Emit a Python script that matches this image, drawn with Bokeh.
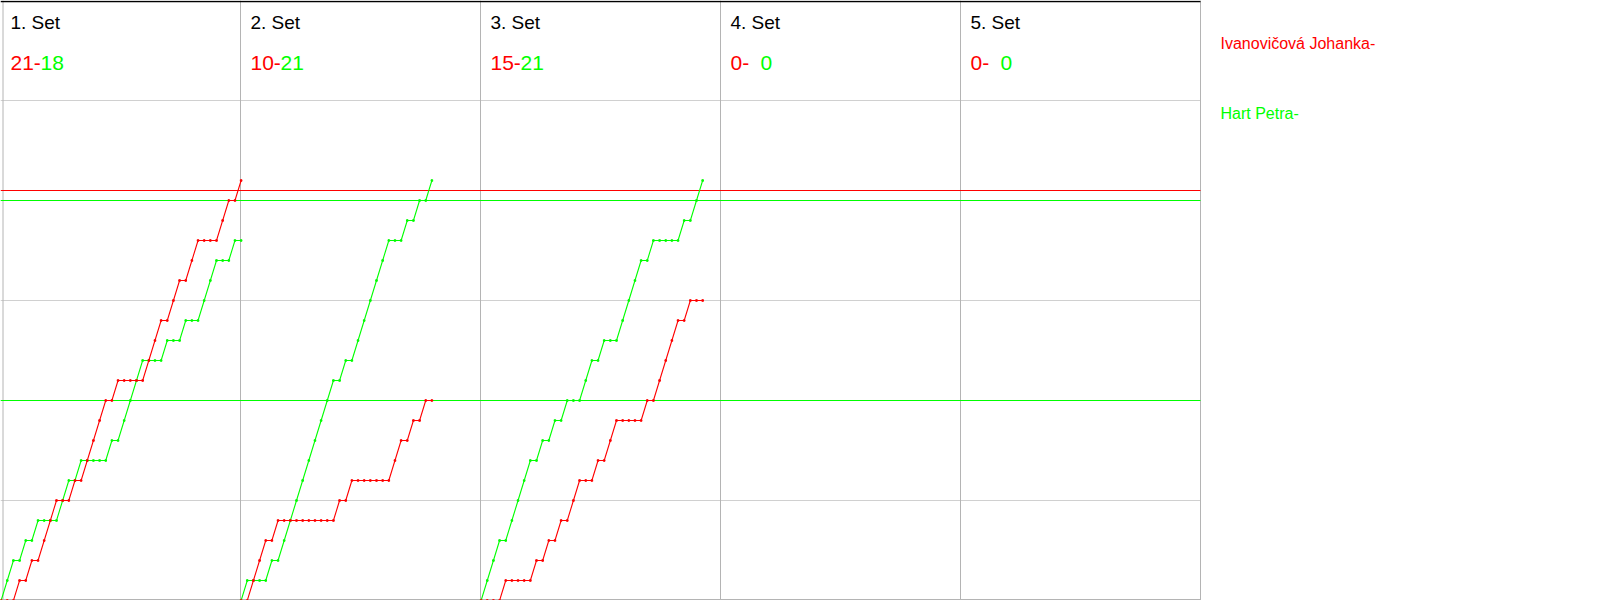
from bokeh.plotting import figure
from bokeh.models import Range1d, ColumnDataSource
from bokeh.core.properties import value
from bokeh.embed import file_html
from bokeh.resources import INLINE

# ---------------- data ----------------
set_labels = ["1. Set", "2. Set", "3. Set", "4. Set", "5. Set"]
red_final = [21, 10, 15, 0, 0]
green_final = [18, 21, 21, 0, 0]
player_red = "Ivanovičová Johanka-"
player_green = "Hart Petra-"

# running score after each rally (index 0 = start of set)
red_s1 = [0, 0, 0, 1, 1, 2, 2, 3, 4, 5, 5, 5, 6, 6, 7, 8, 9, 10, 10, 11,
          11, 11, 11, 11, 12, 13, 14, 14, 15, 16, 16, 17, 18, 18, 18, 18, 19, 20, 20, 21]
green_s1 = [0, 1, 2, 2, 3, 3, 4, 4, 4, 4, 5, 6, 6, 7, 7, 7, 7, 7, 8, 8,
            9, 10, 11, 12, 12, 12, 12, 13, 13, 13, 14, 14, 14, 15, 16, 17, 17, 17, 18, 18]
red_s2 = [0, 0, 1, 2, 3, 3, 4, 4, 4, 4, 4, 4, 4, 4, 4, 4,
          5, 5, 6, 6, 6, 6, 6, 6, 6, 7, 8, 8, 9, 9, 10, 10]
green_s2 = [0, 1, 1, 1, 1, 2, 2, 3, 4, 5, 6, 7, 8, 9, 10, 11,
            11, 12, 12, 13, 14, 15, 16, 17, 18, 18, 18, 19, 19, 20, 20, 21]
red_s3 = [0, 0, 0, 0, 1, 1, 1, 1, 1, 2, 2, 3, 3, 4, 4, 5, 6, 6, 6,
          7, 7, 8, 9, 9, 9, 9, 9, 10, 10, 11, 12, 13, 14, 14, 15, 15, 15]
green_s3 = [0, 1, 2, 3, 3, 4, 5, 6, 7, 7, 8, 8, 9, 9, 10, 10, 10, 11, 12,
            12, 13, 13, 13, 14, 15, 16, 17, 17, 18, 18, 18, 18, 18, 19, 19, 20, 21]
red_sets = [red_s1, red_s2, red_s3]
green_sets = [green_s1, green_s2, green_s3]

grid_scores = [5, 10, 15, 20, 25]
red_mark_lines = [20.5]
green_mark_lines = [20, 10]

# ---------------- layout ----------------
RED = "#ff0000"
GREEN = "#00ff00"
FONT = value("Liberation Sans")
PANEL = 39          # rallies per set panel
NP = len(set_labels)
XMAX = PANEL * NP
W, H = 1600, 600
PLOT_PX = 1200      # pixel width of the chart part
YMAX = 30
x_end = XMAX * W / PLOT_PX
px_x = PLOT_PX / XMAX
px_y = H / YMAX


def y_at(top_px):
    return YMAX - top_px / px_y


def x_at(left_px):
    return left_px / px_x


p = figure(width=W, height=H, x_range=Range1d(0, x_end), y_range=Range1d(0, YMAX),
           output_backend="svg", toolbar_location=None, min_border=0,
           x_axis_type=None, y_axis_type=None)
p.grid.visible = False
p.outline_line_color = None
p.background_fill_color = "white"
p.border_fill_color = "white"

# horizontal grid
p.segment(x0=[0] * len(grid_scores), x1=[XMAX] * len(grid_scores),
          y0=grid_scores, y1=grid_scores, line_color="#d0d0d0", line_width=1)
# bottom border
p.segment(x0=[0], x1=[XMAX], y0=[y_at(599)], y1=[y_at(599)], line_color="#b4b4b4", line_width=1.2)
# panel dividers
div_x = [x_at(2.5)] + [PANEL * i for i in range(1, NP + 1)]
p.segment(x0=div_x, x1=div_x, y0=[0] * len(div_x), y1=[YMAX] * len(div_x),
          line_color="#b4b4b4", line_width=1)
# top border
p.segment(x0=[0], x1=[XMAX], y0=[y_at(1)], y1=[y_at(1)], line_color="black", line_width=1.5)

# marker lines
p.segment(x0=[0] * len(red_mark_lines), x1=[XMAX] * len(red_mark_lines),
          y0=red_mark_lines, y1=red_mark_lines, line_color=RED, line_width=1.1)
p.segment(x0=[0] * len(green_mark_lines), x1=[XMAX] * len(green_mark_lines),
          y0=green_mark_lines, y1=green_mark_lines, line_color=GREEN, line_width=1.1)

# score progressions
for i, (rs, gs) in enumerate(zip(red_sets, green_sets)):
    xs = [PANEL * i + r + 0.1 for r in range(len(rs))]
    for ys, col in ((gs, GREEN), (rs, RED)):
        src = ColumnDataSource(dict(x=xs, y=ys))
        p.line("x", "y", source=src, line_color=col, line_width=1.1)
        p.scatter("x", "y", source=src, marker="square", size=1.6,
                  fill_color=col, line_color=col)

# set headers
panel_x = [PANEL * i for i in range(NP)]
p.text(x=panel_x, y=[y_at(22)] * NP, text=set_labels, x_offset=10,
       text_font=FONT, text_font_size="19px", text_color="black",
       text_baseline="alphabetic")
p.text(x=panel_x, y=[y_at(62)] * NP, text=[f"{v}-" for v in red_final], x_offset=10,
       text_font=FONT, text_font_size="21px", text_color=RED,
       text_baseline="alphabetic")
p.text(x=panel_x, y=[y_at(62)] * NP, text=[f"{v}" for v in green_final], x_offset=40,
       text_font=FONT, text_font_size="21px", text_color=GREEN,
       text_baseline="alphabetic")

# legend
p.text(x=[x_at(1220)], y=[y_at(43)], text=[player_red], text_font=FONT,
       text_font_size="16px", text_color=RED, text_baseline="alphabetic")
p.text(x=[x_at(1220)], y=[y_at(113)], text=[player_green], text_font=FONT,
       text_font_size="16px", text_color=GREEN, text_baseline="alphabetic")

open("out.html", "w").write(file_html(p, INLINE))
